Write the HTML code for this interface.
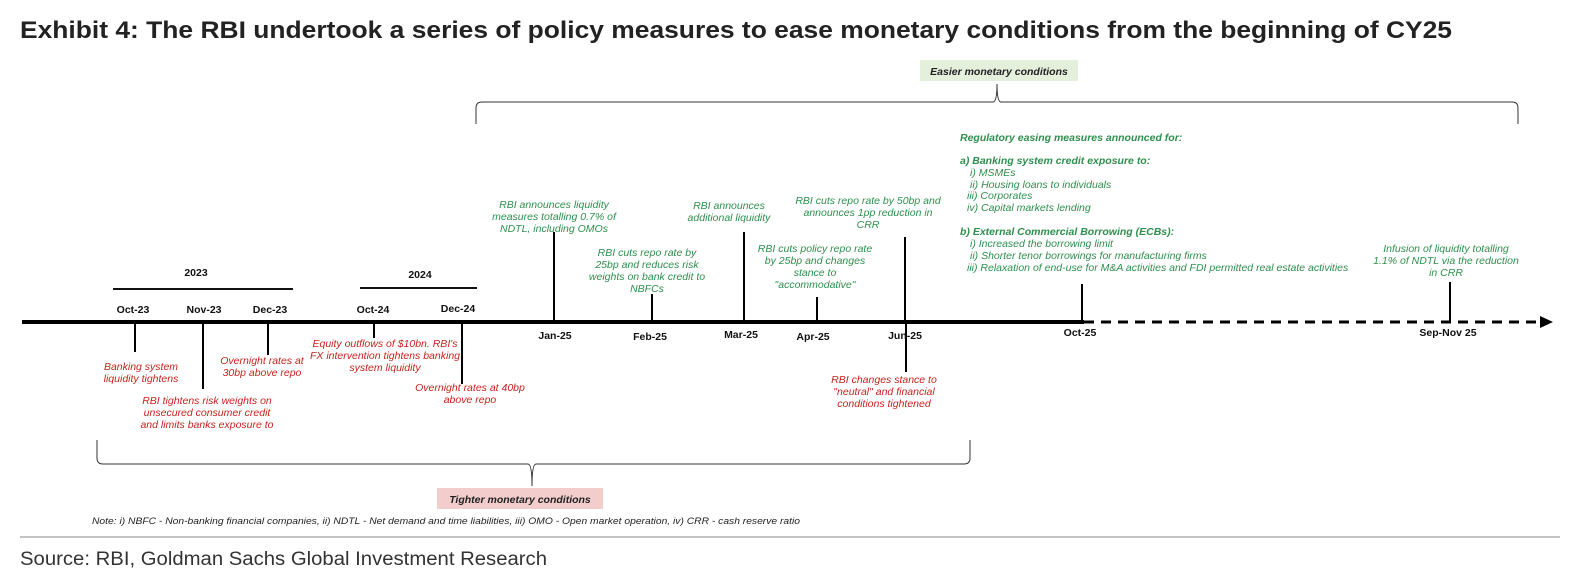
<!DOCTYPE html>
<html><head><meta charset="utf-8"><style>
body{margin:0;background:#fff;}
svg{display:block;font-family:"Liberation Sans",sans-serif;}
.g{fill:#2f8f4e;font-style:italic;font-size:10.5px;}
.r{fill:#c8231e;font-style:italic;font-size:10.5px;}
.d{font-weight:bold;font-size:10.5px;fill:#111;}
</style></head><body>
<svg width="1571" height="575" viewBox="0 0 1571 575">
<text x="20" y="38" font-size="24" font-weight="bold" fill="#222" textLength="1432" lengthAdjust="spacingAndGlyphs">Exhibit 4: The RBI undertook a series of policy measures to ease monetary conditions from the beginning of CY25</text>

<rect x="920" y="60" width="158" height="21" fill="#e4efdc"/>
<text x="999" y="75" text-anchor="middle" font-size="10.5" font-weight="bold" font-style="italic" fill="#222">Easier monetary conditions</text>
<path d="M476 124 L476 108 Q476 102 482 102 L993 102 Q997 102 997 84 Q997 102 1001 102 L1512 102 Q1518 102 1518 108 L1518 124" fill="none" stroke="#333" stroke-width="1"/>

<path d="M97 440 L97 458 Q97 464 103 464 L528 464 Q532 464 532 486 Q532 464 536 464 L964 464 Q970 464 970 458 L970 440" fill="none" stroke="#333" stroke-width="1"/>
<rect x="437" y="488" width="166" height="21" fill="#f3cccc"/>
<text x="520" y="503" text-anchor="middle" font-size="10.5" font-weight="bold" font-style="italic" fill="#222">Tighter monetary conditions</text>

<text x="92" y="524" font-size="9" font-style="italic" fill="#222" textLength="708" lengthAdjust="spacingAndGlyphs">Note: i) NBFC - Non-banking financial companies, ii) NDTL - Net demand and time liabilities, iii) OMO - Open market operation, iv) CRR - cash reserve ratio</text>
<line x1="20" y1="537" x2="1560" y2="537" stroke="#888" stroke-width="1"/>
<text x="20" y="565" font-size="19" fill="#333" textLength="527" lengthAdjust="spacingAndGlyphs">Source: RBI, Goldman Sachs Global Investment Research</text>

<text x="196" y="276" text-anchor="middle" class="d">2023</text>
<line x1="113" y1="289" x2="293" y2="289" stroke="#111" stroke-width="2"/>
<text x="420" y="278" text-anchor="middle" class="d">2024</text>
<line x1="360" y1="288" x2="477" y2="288" stroke="#111" stroke-width="2"/>

<line x1="22" y1="322" x2="1084" y2="322" stroke="#000" stroke-width="4"/>
<line x1="1084" y1="322" x2="1540" y2="322" stroke="#000" stroke-width="3" stroke-dasharray="10,7"/>
<path d="M1540 316 L1553 322 L1540 328 Z" fill="#000"/>

<g stroke="#000" stroke-width="2">
<line x1="135" y1="322" x2="135" y2="352"/>
<line x1="203" y1="322" x2="203" y2="389"/>
<line x1="268" y1="322" x2="268" y2="355"/>
<line x1="374" y1="322" x2="374" y2="338"/>
<line x1="462" y1="322" x2="462" y2="384"/>
<line x1="554" y1="322" x2="554" y2="232"/>
<line x1="652" y1="322" x2="652" y2="294"/>
<line x1="744" y1="322" x2="744" y2="232"/>
<line x1="817" y1="322" x2="817" y2="297"/>
<line x1="905" y1="322" x2="905" y2="237"/>
<line x1="906" y1="322" x2="906" y2="372"/>
<line x1="1082" y1="322" x2="1082" y2="284"/>
<line x1="1450" y1="322" x2="1450" y2="282"/>
</g>

<g class="d" text-anchor="middle">
<text x="133" y="313">Oct-23</text>
<text x="204" y="313">Nov-23</text>
<text x="270" y="313">Dec-23</text>
<text x="373" y="313">Oct-24</text>
<text x="458" y="312">Dec-24</text>
<text x="555" y="339">Jan-25</text>
<text x="650" y="340">Feb-25</text>
<text x="741" y="338">Mar-25</text>
<text x="813" y="340">Apr-25</text>
<text x="905" y="339">Jun-25</text>
<text x="1080" y="336">Oct-25</text>
<text x="1448" y="336">Sep-Nov 25</text>
</g>

<g class="r" text-anchor="middle">
<text x="141" y="370">Banking system</text><text x="141" y="382">liquidity tightens</text>
<text x="207" y="404">RBI tightens risk weights on</text><text x="207" y="416">unsecured consumer credit</text><text x="207" y="428">and limits banks exposure to</text>
<text x="262" y="364">Overnight rates at</text><text x="262" y="376">30bp above repo</text>
<text x="385" y="347">Equity outflows of $10bn. RBI's</text><text x="385" y="359">FX intervention tightens banking</text><text x="385" y="371">system liquidity</text>
<text x="470" y="391">Overnight rates at 40bp</text><text x="470" y="403">above repo</text>
<text x="884" y="383">RBI changes stance to</text><text x="884" y="395">"neutral" and financial</text><text x="884" y="407">conditions tightened</text>
</g>

<g class="g" text-anchor="middle">
<text x="554" y="208">RBI announces liquidity</text><text x="554" y="220">measures totalling 0.7% of</text><text x="554" y="232">NDTL, including OMOs</text>
<text x="647" y="256">RBI cuts repo rate by</text><text x="647" y="268">25bp and reduces risk</text><text x="647" y="280">weights on bank credit to</text><text x="647" y="292">NBFCs</text>
<text x="729" y="209">RBI announces</text><text x="729" y="221">additional liquidity</text>
<text x="815" y="252">RBI cuts policy repo rate</text><text x="815" y="264">by 25bp and changes</text><text x="815" y="276">stance to</text><text x="815" y="288">"accommodative"</text>
<text x="868" y="204">RBI cuts repo rate by 50bp and</text><text x="868" y="216">announces 1pp reduction in</text><text x="868" y="228">CRR</text>
<text x="1446" y="252">Infusion of liquidity totalling</text><text x="1446" y="264">1.1% of NDTL via the reduction</text><text x="1446" y="276">in CRR</text>
</g>

<g class="g">
<text x="960" y="141" font-weight="bold">Regulatory easing measures announced for:</text>
<text x="960" y="164" font-weight="bold">a) Banking system credit exposure to:</text>
<text x="970" y="176">i) MSMEs</text>
<text x="970" y="188">ii) Housing loans to individuals</text>
<text x="967" y="199">iii) Corporates</text>
<text x="967" y="211">iv) Capital markets lending</text>
<text x="960" y="235" font-weight="bold">b) External Commercial Borrowing (ECBs):</text>
<text x="970" y="247">i) Increased the borrowing limit</text>
<text x="970" y="259">ii) Shorter tenor borrowings for manufacturing firms</text>
<text x="967" y="271">iii) Relaxation of end-use for M&amp;A activities and FDI permitted real estate activities</text>
</g>
</svg>
</body></html>
